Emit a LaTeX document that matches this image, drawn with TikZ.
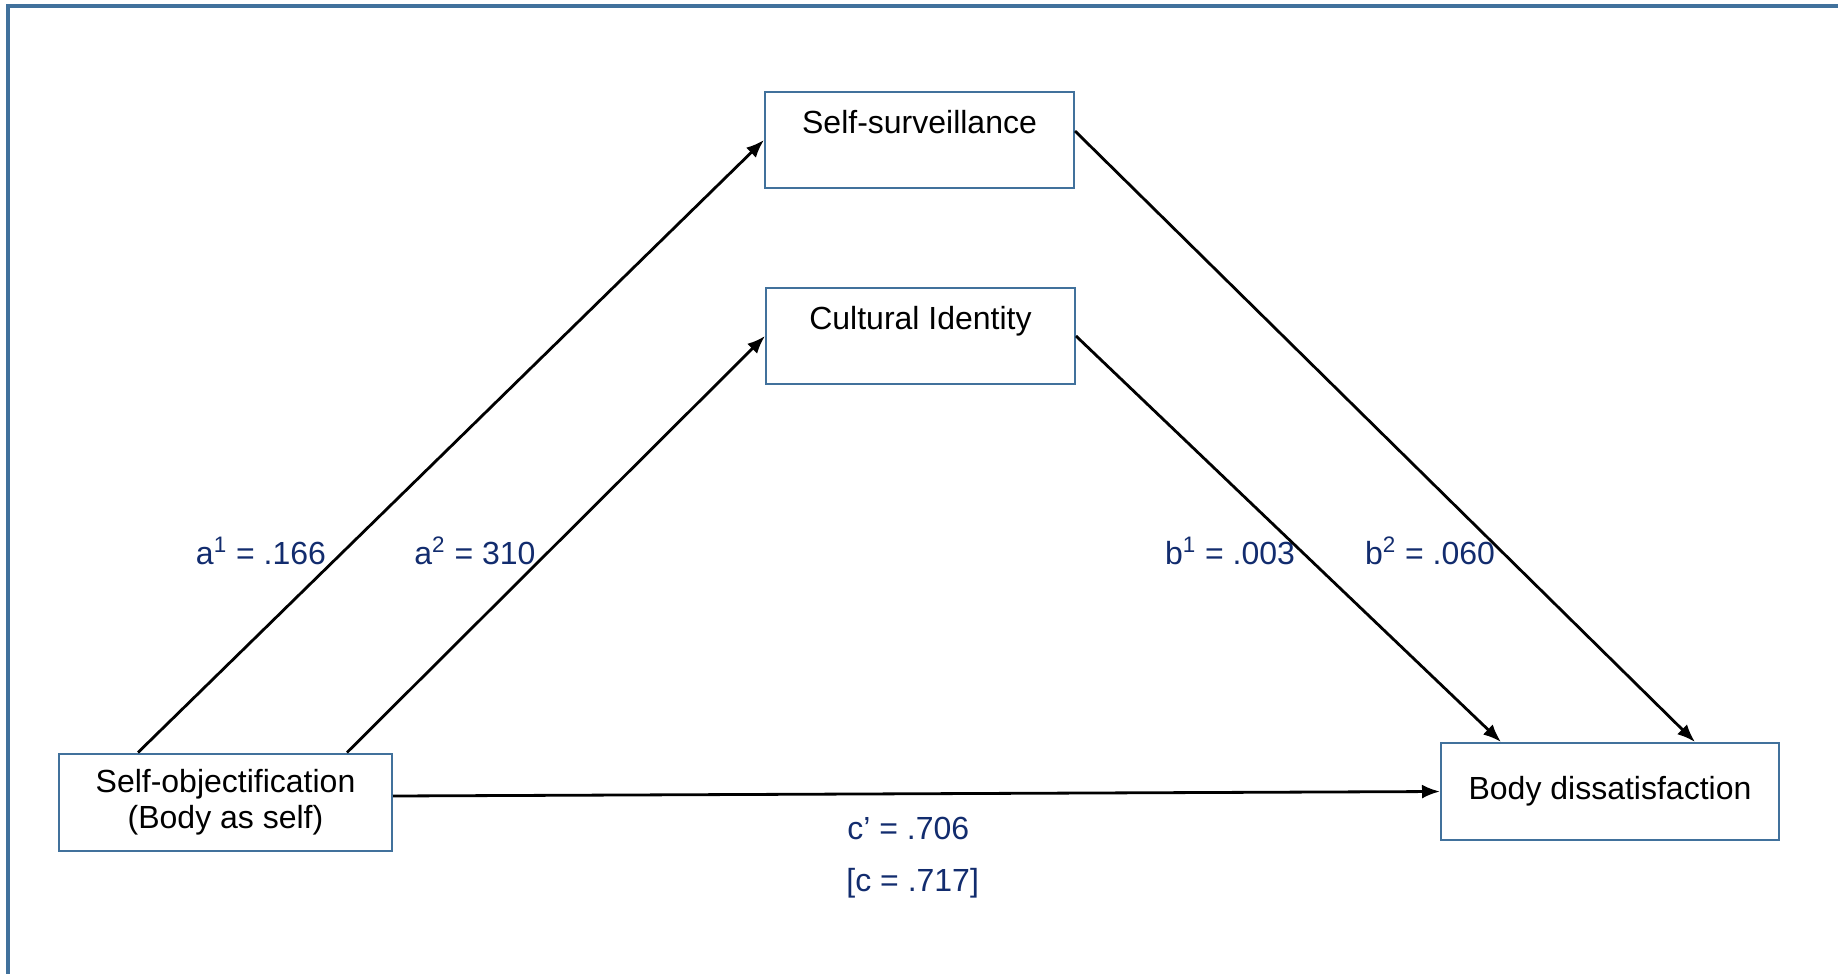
\documentclass[tikz,border=0pt]{standalone}
\usepackage{fontspec}
\setmainfont{Liberation Sans}
\usepackage{tikz}
\usetikzlibrary{arrows.meta, shapes}
\definecolor{boxblue}{RGB}{65,113,156}
\definecolor{labblue}{RGB}{18,44,110}

\begin{document}
\begin{tikzpicture}
[x=0.5pt, y=-0.5pt, > = {Latex[length=9pt, width=7pt]}, auto,
font=\fontsize{16}{18}\selectfont,
block/.style ={rectangle, draw=boxblue, line width=1pt,
align=center, inner sep=0pt},
coef/.style ={text=labblue, inner sep=0pt},
path/.style ={->, line width=1.4pt, black},
]
\useasboundingbox (0,0) rectangle (1838,974);
% frame
\draw[boxblue, line width=1.8pt] (1850,6) -- (8,6) -- (8,990);

% row 1
\node [block, minimum width=154.5pt, minimum height=48pt] (ss) at (919.5,140) {Self-surveillance\\\mbox{}};
% row 2
\node [block, minimum width=154.5pt, minimum height=48pt] (ci) at (920.5,336) {Cultural Identity\\\mbox{}};
% row 3
\node [block, minimum width=166.5pt, minimum height=48.5pt] (so) at (225.5,802) {Self-objectification\\(Body as self)};
\node [block, minimum width=169pt, minimum height=48.5pt] (bd) at (1610,791.5) {Body dissatisfaction};

% coefficients
\node[coef] (a1) at (261,551) {a\textsuperscript{1} = .166};
\node[coef] (a2) at (475,551) {a\textsuperscript{2} = 310};
\node[coef] (b1) at (1230,551) {b\textsuperscript{1} = .003};
\node[coef] (b2) at (1430,551) {b\textsuperscript{2} = .060};
\node[coef, anchor=west] (cp) at (847,828) {c’ = .706};
\node[coef, anchor=west] (c) at (846,883) {[c = .717]};

 \draw[path] ([xshift=40pt]so.north west) -- (ss.west);
 \draw[path] ([xshift=144.5pt]so.north west) -- (ci.west);
 \draw[path] ([yshift=4.5pt]ss.east) -- ([xshift=127.5pt]bd.north west);
 \draw[path] (ci.east) -- ([xshift=30.5pt]bd.north west);
 \draw[path] ([yshift=3pt]so.east) -- (bd.west);
\end{tikzpicture}
\end{document}
